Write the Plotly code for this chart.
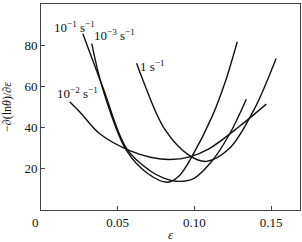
import plotly.graph_objects as go

# strain values and -d(ln theta)/d(eps) values for each strain rate
eps_1e1 = [0.0273, 0.0403, 0.0558, 0.0708, 0.0800, 0.0903, 0.1000, 0.1117, 0.1230, 0.1338]
val_1e1 = [85.6, 59.6, 29.8, 19.2, 15.5, 13.9, 15.5, 24.0, 37.0, 53.8]

eps_1e3 = [0.0331, 0.0403, 0.0558, 0.0700, 0.0825, 0.0903, 0.0987, 0.1117, 0.1200, 0.1279]
val_1e3 = [80.8, 58.7, 28.8, 17.5, 13.5, 16.8, 26.4, 45.7, 62.0, 81.7]

eps_1e2 = [0.0188, 0.0253, 0.0383, 0.0578, 0.0720, 0.0838, 0.0970, 0.1097, 0.1290, 0.1468]
val_1e2 = [52.4, 47.6, 37.0, 28.8, 25.5, 24.5, 25.8, 29.8, 40.4, 51.4]

eps_1 = [0.0623, 0.0662, 0.0805, 0.0968, 0.1078, 0.1227, 0.1390, 0.1532]
val_1 = [71.2, 63.5, 39.4, 26.4, 23.6, 29.8, 49.0, 73.6]

labels = ["10<sup>−1</sup> s<sup>−1</sup>", "10<sup>−3</sup> s<sup>−1</sup>",
          "1 s<sup>−1</sup>", "10<sup>−2</sup> s<sup>−1</sup>"]
label_x = [0.0070, 0.0330, 0.0630, 0.0090]
label_y = [89.0, 85.0, 70.0, 57.0]

x_ticks = [0.05, 0.10, 0.15]
x_tick_text = ["0.05", "0.10", "0.15"]
y_ticks = [20, 40, 60, 80, 100]

FONT = "Liberation Serif"
fig = go.Figure()
for xs, ys in [(eps_1e1, val_1e1), (eps_1e3, val_1e3), (eps_1e2, val_1e2), (eps_1, val_1)]:
    fig.add_trace(go.Scatter(x=xs, y=ys, mode="lines",
                             line=dict(color="#111", width=1.4, shape="spline", smoothing=1.0),
                             showlegend=False, hoverinfo="skip"))

for t, lx, ly in zip(labels, label_x, label_y):
    fig.add_annotation(x=lx, y=ly, text=t, showarrow=False, xanchor="left", yanchor="middle",
                       font=dict(family=FONT, size=13, color="#111"))

fig.add_annotation(x=-0.023, y=-0.06, xref="paper", yref="paper", text="0", showarrow=False,
                   xanchor="center", yanchor="middle", font=dict(family=FONT, size=13, color="#111"))

fig.update_xaxes(range=[0, 0.1688], tickvals=x_ticks, ticktext=x_tick_text,
                 ticks="inside", ticklen=4, tickcolor="#444", showline=True, linecolor="#444",
                 linewidth=1, mirror=True, showgrid=False, zeroline=False,
                 tickfont=dict(family=FONT, size=13, color="#111"),
                 title=dict(text="<i>ε</i>", font=dict(family=FONT, size=13, color="#111"), standoff=2))
fig.update_yaxes(range=[0, 100], tickvals=y_ticks,
                 ticks="inside", ticklen=4, tickcolor="#444", showline=True, linecolor="#444",
                 linewidth=1, mirror=True, showgrid=False, zeroline=False,
                 tickfont=dict(family=FONT, size=13, color="#111"),
                 title=dict(text="−∂(ln<i>θ</i>)/∂<i>ε</i>", font=dict(family=FONT, size=12, color="#111"), standoff=10))

fig.update_layout(width=302, height=242, margin=dict(l=41, r=1, t=4, b=30),
                  paper_bgcolor="white", plot_bgcolor="white")
fig.write_html("out.html")
